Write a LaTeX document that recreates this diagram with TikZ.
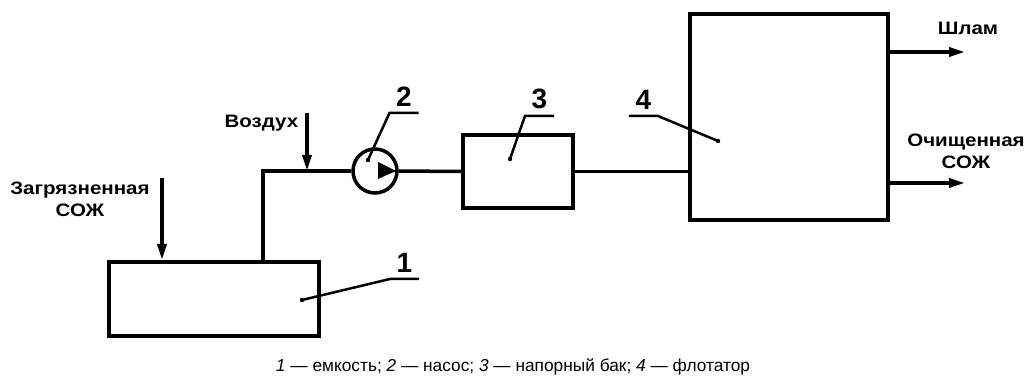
\documentclass[tikz,border=0pt]{standalone}
\usepackage{fontspec}
\setmainfont{Liberation Sans}
\newfontfamily\widefont[FakeStretch=1.14]{Liberation Sans}
\usetikzlibrary{arrows.meta, positioning, calc}
\tikzset{
  every picture/.style={line width=3.5pt, x=1pt, y=-1pt},
  unit/.style={draw, rectangle, line width=4pt, inner sep=0pt},
  pipe/.style={line width=3.5pt},
  flow/.style={-{Triangle[length=16pt, width=9pt]}, line width=3.5pt},
  leader/.style={line width=2.5pt},
  num/.style={font=\bfseries\fontsize{28}{30}\selectfont, inner xsep=5pt, inner ysep=5pt, anchor=south},
  lbl/.style={font=\widefont\bfseries\fontsize{18}{22}\selectfont, align=center, inner sep=0pt},
}

\begin{document}
\begin{tikzpicture}
  \useasboundingbox (0,0) rectangle (1029,387);

  % units
  \node[unit, minimum width=210pt, minimum height=74pt] (tank) at (214,299) {};
  \node[draw, circle, line width=3.5pt, minimum size=44pt, inner sep=0pt] (pump) at (375,171) {};
  \fill ($(pump.center)+(3,-9)$) -- ($(pump.center)+(3,8)$) -- ($(pump.center)+(21,0)$) -- cycle;
  \node[unit, minimum width=110pt, minimum height=73pt] (feed) at (518,171.5) {};
  \node[unit, minimum width=198pt, minimum height=206pt] (flot) at (789,117) {};

  % pipes
  \coordinate (bend) at (263,171);
  \draw[pipe] (tank.north -| bend) -- (bend) -- (pump.west);
  \draw[pipe] (pump.east) -- (feed.west);
  \draw[pipe] (feed.east) -- (feed.east -| flot.west);

  % inflows
  \node[lbl] (dirty) at (80,199) {Загрязненная\\СОЖ};
  \coordinate (dirtyin) at (162,178);
  \draw[flow] (dirtyin) -- (dirtyin |- tank.north);
  \node[lbl, anchor=east] (air) at (300,123) {Воздух};
  \coordinate (airin) at (307,113);
  \draw[flow] (airin) -- (airin |- bend);

  % outflows
  \coordinate (sludge) at (965,52);
  \coordinate (clean) at (965,183);
  \draw[flow] (sludge -| flot.east) -- (sludge);
  \draw[flow] (clean -| flot.east) -- (clean);
  \node[lbl] (sludgetxt) at (968,28) {Шлам};
  \node[lbl] (cleantxt) at (966,151) {Очищенная\\СОЖ};

  % position numbers
  \coordinate (d1) at (302,300);
  \coordinate (d2) at (368,160);
  \coordinate (d3) at (510,159);
  \coordinate (d4) at (718,141);
  \node[num] (n1) at (404.5,279) {1};
  \node[num] (n2) at (404,113) {2};
  \node[num] (n3) at (539.5,116) {3};
  \node[num] (n4) at (643.5,116) {4};
  \draw[leader] (n1.south east) -- (n1.south west) -- (d1);
  \draw[leader] (n2.south east) -- (n2.south west) -- (d2);
  \draw[leader] (n3.south east) -- (n3.south west) -- (d3);
  \draw[leader] (n4.south west) -- (n4.south east) -- (d4);
  \foreach \d in {d1,d2,d3,d4} \fill (\d) circle (2.2pt);

  \node[font=\fontsize{17.3}{20}\selectfont, inner sep=0pt] (legend) at (513,367) {\textit{1} — емкость; \textit{2} — насос; \textit{3} — напорный бак; \textit{4} — флотатор};
\end{tikzpicture}
\end{document}
